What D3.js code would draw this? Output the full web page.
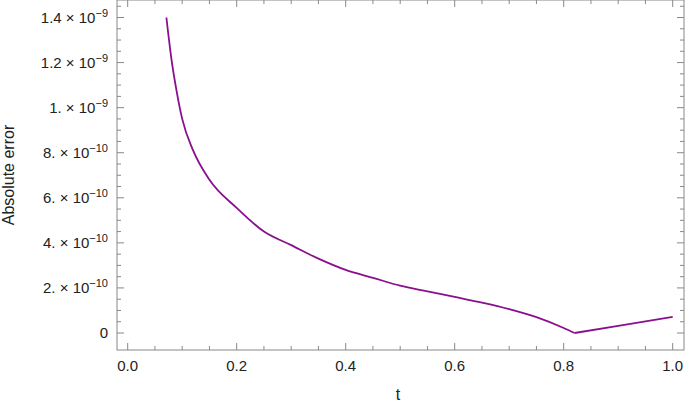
<!DOCTYPE html>
<html>
<head>
<meta charset="UTF-8">
<script src="https://d3js.org/d3.v7.min.js"></script>
<style>
  body { margin: 0; background: #fff; font-family: "Liberation Sans", Arial, sans-serif; }
  text { fill: #222; }
</style>
</head>
<body>
<svg id="chart" width="685" height="405"></svg>
<script>
// values (error in units of 1e-9)
const tValues = [0.071, 0.08, 0.09, 0.1, 0.12, 0.15, 0.2, 0.25, 0.3, 0.35, 0.4, 0.45, 0.5, 0.55, 0.6, 0.65, 0.7, 0.75, 0.8, 0.82, 0.9, 1.0];
const errValues = [1.4, 1.22, 1.07, 0.95, 0.81, 0.68, 0.555, 0.45, 0.39, 0.33, 0.28, 0.245, 0.21, 0.185, 0.16, 0.135, 0.106, 0.07, 0.022, 0.0, 0.032, 0.072];
const xTicks = [0, 0.2, 0.4, 0.6, 0.8, 1.0];
const xTickLabels = ["0.0", "0.2", "0.4", "0.6", "0.8", "1.0"];
const yTicks = [0, 0.2, 0.4, 0.6, 0.8, 1.0, 1.2, 1.4];
const yMant = ["0", "2.", "4.", "6.", "8.", "1.", "1.2", "1.4"];
const yExp = [null, "-10", "-10", "-10", "-10", "-9", "-9", "-9"];

const svg = d3.select("#chart");
const pLeft = 117, pRight = 684, pTop = 0, pBottom = 350;

const x = d3.scaleLinear().domain([0, 1]).range([127.7, 672.7]);
const y = d3.scaleLinear().domain([0, 1.4]).range([333, 17.5]);

const frame = "#888";
svg.append("rect").attr("x", pLeft).attr("y", pTop).attr("width", pRight - pLeft).attr("height", pBottom - pTop)
  .attr("fill", "none").attr("stroke", frame).attr("stroke-width", 1);

// minor + major ticks, mirrored on all sides
const xMinor = d3.range(0, 1.0001, 0.05);
xMinor.forEach(v => {
  const major = xTicks.some(m => Math.abs(m - v) < 1e-6);
  const len = major ? 7 : 4;
  svg.append("line").attr("x1", x(v)).attr("x2", x(v)).attr("y1", pBottom).attr("y2", pBottom - len).attr("stroke", frame);
  svg.append("line").attr("x1", x(v)).attr("x2", x(v)).attr("y1", pTop).attr("y2", pTop + len).attr("stroke", frame);
});
const yMinor = d3.range(0, 1.4501, 0.05);
yMinor.forEach(v => {
  const major = yTicks.some(m => Math.abs(m - v) < 1e-6);
  const len = major ? 7 : 4;
  svg.append("line").attr("y1", y(v)).attr("y2", y(v)).attr("x1", pLeft).attr("x2", pLeft + len).attr("stroke", frame);
  svg.append("line").attr("y1", y(v)).attr("y2", y(v)).attr("x1", pRight).attr("x2", pRight - len).attr("stroke", frame);
});

xTicks.forEach((v, i) => {
  svg.append("text").attr("x", x(v)).attr("y", 371).attr("text-anchor", "middle")
    .attr("font-size", 15).text(xTickLabels[i]);
});

yTicks.forEach((v, i) => {
  const t = svg.append("text").attr("x", 108).attr("y", y(v) + 5).attr("text-anchor", "end").attr("font-size", 15);
  if (yExp[i] === null) { t.text(yMant[i]); return; }
  t.append("tspan").text(yMant[i] + " \u00d7 10");
  t.append("tspan").attr("dy", -6).attr("font-size", 11).text(yExp[i].replace("-", "\u2212"));
});

svg.append("text").attr("x", 398).attr("y", 400).attr("text-anchor", "middle").attr("font-size", 16).text("t");
svg.append("text").attr("transform", "translate(14,175) rotate(-90)").attr("text-anchor", "middle")
  .attr("font-size", 16).text("Absolute error");

const pts = tValues.map((t, i) => [t, errValues[i]]);
const line = d3.line().x(d => x(d[0])).y(d => y(d[1])).curve(d3.curveMonotoneX);
svg.append("path").datum(pts.slice(0, 20)).attr("d", line).attr("fill", "none").attr("stroke", "#8a0f8f").attr("stroke-width", 1.8);
svg.append("path").datum(pts.slice(19)).attr("d", d3.line().x(d => x(d[0])).y(d => y(d[1]))).attr("fill", "none").attr("stroke", "#8a0f8f").attr("stroke-width", 1.8);
</script>
</body>
</html>
